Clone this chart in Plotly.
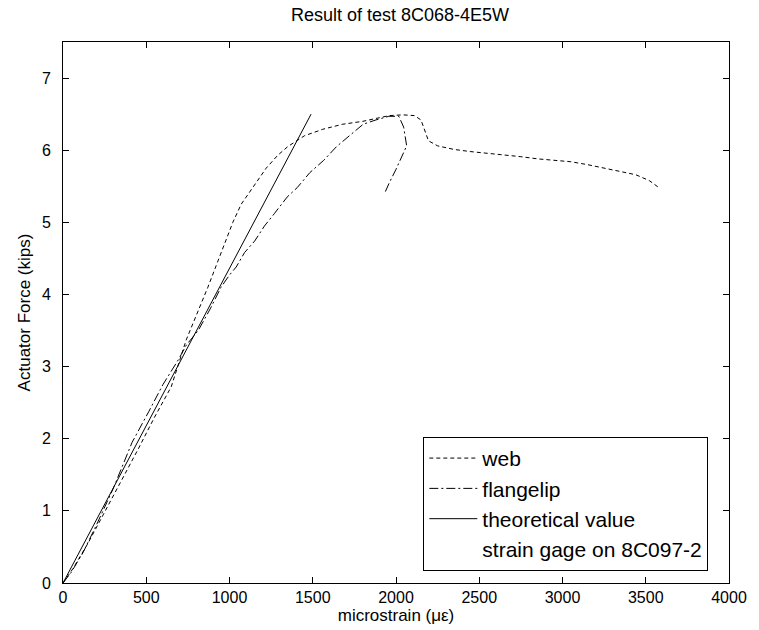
import plotly.graph_objects as go

# web strain gage (dashed)
web_x = [0, 60, 150, 250, 350, 450, 550, 650, 740, 810, 870, 920, 970, 1020, 1070,
         1150, 1220, 1290, 1350, 1450, 1560, 1680, 1800, 1900, 1960, 2040, 2110, 2150,
         2170, 2195, 2250, 2350, 2450, 2550, 2650, 2750, 2850, 2950, 3050, 3150, 3260,
         3350, 3440, 3520, 3580]
web_y = [0, 0.2, 0.55, 0.98, 1.4, 1.85, 2.3, 2.72, 3.37, 3.75, 4.10, 4.40, 4.70, 5.0, 5.25,
         5.52, 5.75, 5.93, 6.05, 6.20, 6.29, 6.36, 6.40, 6.45, 6.48, 6.49, 6.48, 6.42,
         6.30, 6.13, 6.06, 6.01, 5.98, 5.96, 5.94, 5.91, 5.88, 5.86, 5.84, 5.80, 5.75,
         5.71, 5.66, 5.58, 5.48]

# flangelip strain gage (dash-dot)
flange_x = [0, 50, 120, 200, 300, 415, 516, 600, 694, 741, 812, 884, 949, 1000, 1040,
            1090, 1151, 1210, 1269, 1346, 1406, 1483, 1566, 1643, 1720, 1803, 1880,
            1957, 2017, 2046, 2064, 2040, 1999, 1960, 1935]
flange_y = [0, 0.15, 0.42, 0.8, 1.3, 1.95, 2.38, 2.75, 3.1, 3.3, 3.5, 3.8, 4.1, 4.27, 4.38,
            4.58, 4.74, 4.95, 5.12, 5.35, 5.48, 5.69, 5.86, 6.05, 6.20, 6.36, 6.42,
            6.47, 6.47, 6.32, 6.06, 5.93, 5.73, 5.55, 5.42]

# theoretical value (solid)
theory_x = [0, 1490]
theory_y = [0, 6.5]

x_ticks = [0, 500, 1000, 1500, 2000, 2500, 3000, 3500, 4000]
y_ticks = [0, 1, 2, 3, 4, 5, 6, 7]

fig = go.Figure()
fig.add_trace(go.Scatter(x=web_x, y=web_y, mode="lines", name="web",
                         line=dict(color="black", width=1, dash="4px,3px")))
fig.add_trace(go.Scatter(x=flange_x, y=flange_y, mode="lines", name="flangelip",
                         line=dict(color="black", width=1, dash="9px,3px,2px,3px")))
fig.add_trace(go.Scatter(x=theory_x, y=theory_y, mode="lines", name="theoretical value",
                         line=dict(color="black", width=1)))
fig.add_trace(go.Scatter(x=[None], y=[None], mode="lines", name="strain gage on 8C097-2",
                         line=dict(color="rgba(0,0,0,0)", width=1)))

axis_common = dict(showline=True, linecolor="black", linewidth=1, mirror="allticks",
                   ticks="inside", ticklen=6, tickcolor="black", showgrid=False,
                   zeroline=False, tickfont=dict(size=16, color="black"))

fig.update_layout(
    width=759, height=630,
    margin=dict(l=63, r=22, t=42, b=32),
    paper_bgcolor="white", plot_bgcolor="white",
    font=dict(family="Liberation Sans, Arial, sans-serif", size=16, color="black"),
    title=dict(text="Result of test 8C068-4E5W", x=0.527, xanchor="center",
               y=0.976, yanchor="middle", font=dict(size=18)),
    xaxis=dict(range=[0, 4000], tickvals=x_ticks,
               title=dict(text="microstrain (\u03bc\u03b5)", standoff=0, font=dict(size=17)),
               **axis_common),
    yaxis=dict(range=[0, 7.5], tickvals=y_ticks, ticklabelstandoff=8,
               title=dict(text="Actuator Force (kips)", standoff=6, font=dict(size=17)),
               **axis_common),
    legend=dict(x=0.541, y=0.27, xanchor="left", yanchor="top", bgcolor="white",
                bordercolor="black", borderwidth=1, font=dict(size=21),
                itemwidth=48, tracegroupgap=0),
    showlegend=True,
)

fig.write_html("out.html")
